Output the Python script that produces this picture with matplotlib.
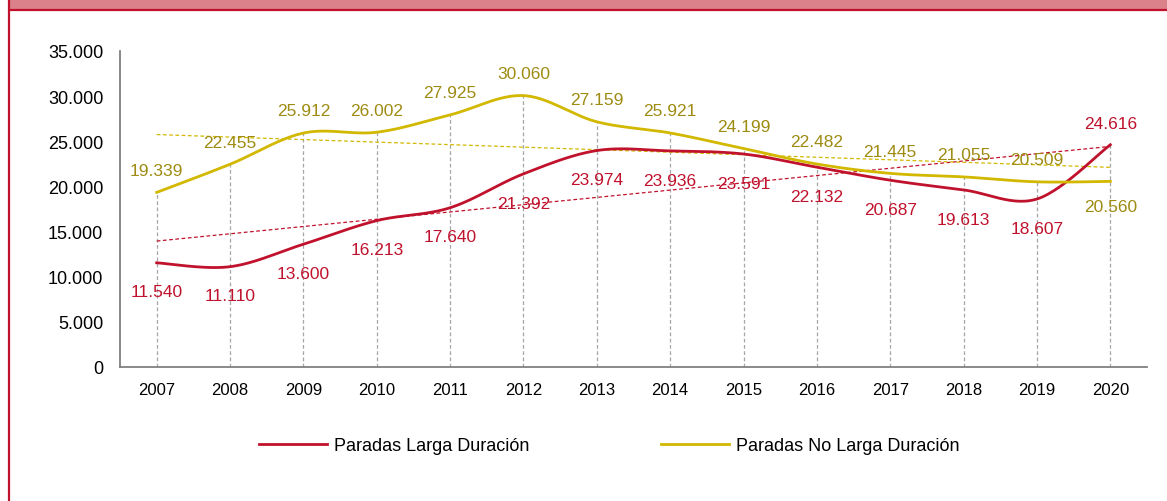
import numpy as np
import matplotlib.pyplot as plt
from matplotlib.patches import Rectangle
from matplotlib.lines import Line2D

years = ['2007', '2008', '2009', '2010', '2011', '2012', '2013',
         '2014', '2015', '2016', '2017', '2018', '2019', '2020']
larga = [11540, 11110, 13600, 16213, 17640, 21392, 23974,
         23936, 23591, 22132, 20687, 19613, 18607, 24616]
no_larga = [19339, 22455, 25912, 26002, 27925, 30060, 27159,
            25921, 24199, 22482, 21445, 21055, 20509, 20560]

RED = '#C0122C'
GOLD = '#D2B800'
GOLD_TXT = '#9E8B12'


def smooth(x, y, n=30):
    # excel-like smoothed line: bezier through points, catmull-rom tangents
    x = np.asarray(x, float)
    y = np.asarray(y, float)
    px = np.concatenate([[x[0]], x, [x[-1]]])
    py = np.concatenate([[y[0]], y, [y[-1]]])
    xs, ys = [], []
    t = np.linspace(0, 1, n)
    for i in range(1, len(px) - 2):
        p0 = np.array([px[i], py[i]])
        p3 = np.array([px[i + 1], py[i + 1]])
        p1 = p0 + (p3 - np.array([px[i - 1], py[i - 1]])) / 6
        p2 = p3 - (np.array([px[i + 2], py[i + 2]]) - p0) / 6
        b = ((1 - t) ** 3)[:, None] * p0 + (3 * (1 - t) ** 2 * t)[:, None] * p1 \
            + (3 * (1 - t) * t ** 2)[:, None] * p2 + (t ** 3)[:, None] * p3
        xs.extend(b[:, 0])
        ys.extend(b[:, 1])
    return np.array(xs), np.array(ys)


def fmt(v):
    return f'{v:,}'.replace(',', '.')


plt.rcParams['font.family'] = ['Liberation Sans', 'DejaVu Sans']

fig = plt.figure(figsize=(11.67, 5.02), dpi=100)
ax = fig.add_axes([120 / 1167, 1 - 368 / 502, 1027 / 1167, 316 / 502])

x = np.arange(len(years))

# frame decoration
fig.patches.append(Rectangle((10 / 1167, 1 - 10 / 502), 1, 10 / 502,
                             transform=fig.transFigure, color='#DA818A', zorder=0))
fig.lines.append(Line2D([10 / 1167, 1], [1 - 10.5 / 502] * 2, transform=fig.transFigure,
                        color=RED, lw=1.6))
fig.lines.append(Line2D([9 / 1167] * 2, [0, 1], transform=fig.transFigure,
                        color=RED, lw=1.6))

# drop lines
tops = np.maximum(larga, no_larga)
ax.vlines(x, 0, tops, colors='#A6A6A6', linestyles=(0, (3, 2)), lw=0.9, zorder=1)

# trend lines
for vals, c in [(larga, RED), (no_larga, GOLD)]:
    k, b = np.polyfit(x, vals, 1)
    ax.plot(x, k * x + b, color=c, lw=0.9, ls=(0, (3, 2)), zorder=2)

sx, sy = smooth(x, larga)
ax.plot(sx, sy, color=RED, lw=2.0, zorder=3, label='Paradas Larga Duración')
sx, sy = smooth(x, no_larga)
ax.plot(sx, sy, color=GOLD, lw=2.0, zorder=3, label='Paradas No Larga Duración')

for i, v in enumerate(larga):
    dy = 15 if i == len(larga) - 1 else -21
    ax.annotate(fmt(v), (x[i], v), xytext=(0, dy), textcoords='offset points',
                ha='center', va='center', color=RED, fontsize=12.5, zorder=4)
for i, v in enumerate(no_larga):
    dy = -18 if i == len(no_larga) - 1 else 16
    ax.annotate(fmt(v), (x[i], v), xytext=(0, dy), textcoords='offset points',
                ha='center', va='center', color=GOLD_TXT, fontsize=12.5, zorder=4)

ax.set_xlim(-0.5, 13.5)
ax.set_ylim(0, 35000)
ax.set_yticks(np.arange(0, 35001, 5000))
ax.set_yticklabels([fmt(v) for v in range(0, 35001, 5000)])
ax.set_xticks(x)
ax.set_xticklabels(years)
ax.tick_params(axis='y', length=0, pad=12, labelsize=13)
ax.tick_params(axis='x', length=0, pad=11, labelsize=12)
for s in ['top', 'right']:
    ax.spines[s].set_visible(False)
for s in ['left', 'bottom']:
    ax.spines[s].set_color('#808080')
    ax.spines[s].set_linewidth(1.3)

fig.legend(loc='center', bbox_to_anchor=(609 / 1167, 1 - 447 / 502), ncol=2,
           frameon=False, fontsize=13, handlelength=3.8, handletextpad=0.35,
           columnspacing=7.3)

fig.savefig('out.png', dpi=100)
